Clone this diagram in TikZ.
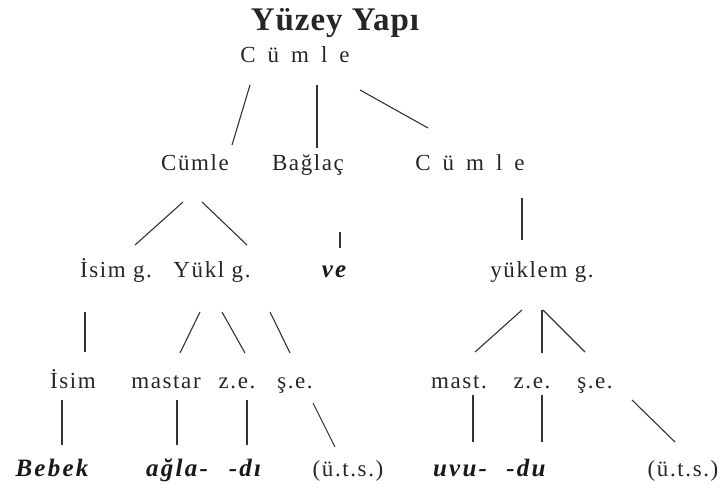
\documentclass[tikz,border=0pt]{standalone}
\usepackage{fontspec}
\setmainfont{Liberation Serif}
\newfontfamily\labfont{Liberation Serif}[LetterSpace=7]
\newfontfamily\wordfont{Liberation Serif}[LetterSpace=9]
\newfontfamily\titlefont{Liberation Serif}[LetterSpace=3]
\newcommand\gapletter{\hspace{12pt}}
\usetikzlibrary{calc}
\begin{document}
\begin{tikzpicture}[x=1pt,y=-1pt,
  lab/.style={anchor=base,inner sep=0pt,text=black!85,font=\labfont\fontsize{23}{26}\selectfont},
  word/.style={anchor=base,inner sep=0pt,text=black!90,font=\wordfont\bfseries\itshape\fontsize{25}{28}\selectfont},
  ttl/.style={anchor=base,inner sep=0pt,text=black!85,font=\titlefont\bfseries\fontsize{33}{36}\selectfont},
  edge/.style={draw=black!80,line width=1.1pt}]
\useasboundingbox (0,0) rectangle (727,502);

% labels of the tree
\node[ttl] (title) at (335,31) {Yüzey Yapı};
\node[lab] (s0) at (295,63) {C\gapletter ü\gapletter m\gapletter l\gapletter e};
\node[lab] (s1) at (195,171) {Cümle};
\node[lab] (conj) at (308,171) {Bağlaç};
\node[lab] (s2) at (470,171) {C\gapletter ü\gapletter m\gapletter l\gapletter e};
\node[lab] (np) at (116,277) {İsim g.};
\node[lab] (vp1) at (212,277) {Yükl g.};
\node[word] (ve) at (334,277) {ve};
\node[lab] (vp2) at (542,277) {yüklem g.};
\node[lab] (n) at (73,388) {İsim};
\node[lab] (mastar) at (166,388) {mastar};
\node[lab] (ze1) at (237,388) {z.e.};
\node[lab] (se1) at (295,388) {ş.e.};
\node[lab] (mast) at (459,388) {mast.};
\node[lab] (ze2) at (532,388) {z.e.};
\node[lab] (se2) at (595,388) {ş.e.};
\node[word] (bebek) at (52,476) {Bebek};
\node[word] (agla) at (177,476) {ağla-};
\node[word] (di) at (245,476) {-dı};
\node[lab] (uts1) at (348,476) {(ü.t.s.)};
\node[word] (uvu) at (460,476) {uvu-};
\node[word] (du) at (526,476) {-du};
\node[lab] (uts2) at (683,476) {(ü.t.s.)};

% branches
\draw[edge] ($(s0.base)+(-45,22)$) -- ($(s1.base)+(37,-26)$);
\draw[edge] ($(s0.base)+(22,22)$) -- ($(conj.base)+(9,-23)$);
\draw[edge] ($(s0.base)+(65,27)$) -- ($(s2.base)+(-42,-43)$);
\draw[edge] ($(s1.base)+(-12,31)$) -- ($(np.base)+(19,-32)$);
\draw[edge] ($(s1.base)+(7,31)$) -- ($(vp1.base)+(35,-32)$);
\draw[edge] ($(conj.base)+(32,61)$) -- ($(ve.base)+(6,-29)$);
\draw[edge] ($(s2.base)+(52,27)$) -- ($(vp2.base)+(-20,-37)$);
\draw[edge] ($(np.base)+(-31,35)$) -- ($(n.base)+(12,-36)$);
\draw[edge] ($(vp1.base)+(-12,35)$) -- ($(mastar.base)+(14,-35)$);
\draw[edge] ($(vp1.base)+(10,35)$) -- ($(ze1.base)+(8,-35)$);
\draw[edge] ($(vp1.base)+(58,35)$) -- ($(se1.base)+(-5,-35)$);
\draw[edge] ($(vp2.base)+(-20,33)$) -- ($(mast.base)+(16,-36)$);
\draw[edge] ($(vp2.base)+(0,33)$) -- ($(ze2.base)+(10,-35)$);
\draw[edge] ($(vp2.base)+(1,33)$) -- ($(se2.base)+(-10,-36)$);
\draw[edge] ($(n.base)+(-11,12)$) -- ($(bebek.base)+(10,-31)$);
\draw[edge] ($(mastar.base)+(11,12)$) -- ($(agla.base)+(0,-31)$);
\draw[edge] ($(ze1.base)+(10,12)$) -- ($(di.base)+(2,-31)$);
\draw[edge] ($(se1.base)+(18,15)$) -- ($(uts1.base)+(-13,-29)$);
\draw[edge] ($(mast.base)+(14,7)$) -- ($(uvu.base)+(13,-34)$);
\draw[edge] ($(ze2.base)+(10,7)$) -- ($(du.base)+(16,-34)$);
\draw[edge] ($(se2.base)+(37,12)$) -- ($(uts2.base)+(-8,-34)$);
\end{tikzpicture}
\end{document}
